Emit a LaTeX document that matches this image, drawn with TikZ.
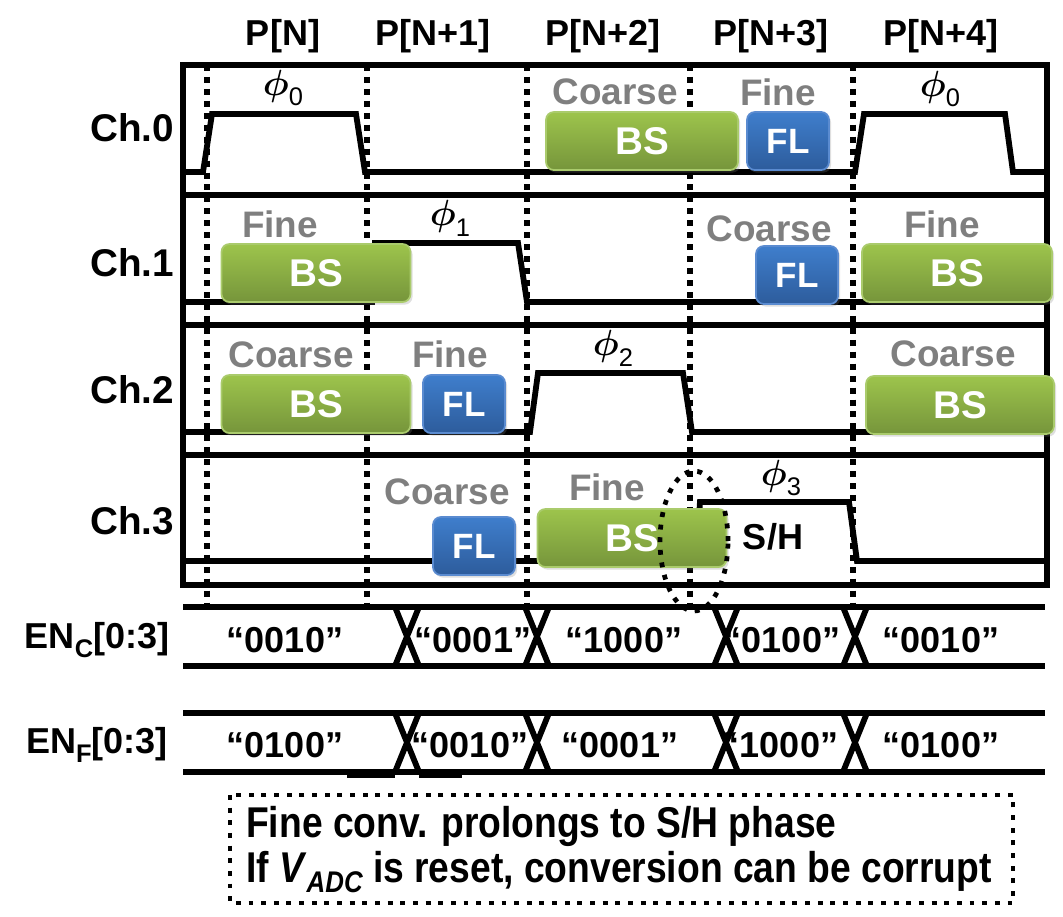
\documentclass[tikz,border=0pt]{standalone}
\usepackage{fontspec}
\setmainfont{Liberation Sans}
\newfontfamily\narrowfont[FakeStretch=0.865]{Liberation Sans}
\usetikzlibrary{shadows}

\definecolor{bsTop}{HTML}{9DC44C}
\definecolor{bsBot}{HTML}{76953B}
\definecolor{bsLine}{HTML}{AACB6C}
\definecolor{flTop}{HTML}{3F7ECC}
\definecolor{flBot}{HTML}{2D5C9C}
\definecolor{flLine}{HTML}{5A8BD0}
\definecolor{convGray}{HTML}{7F7F7F}

\tikzset{
  wire/.style={line width=3.3pt},
  tick/.style={line width=3.2pt, dash pattern=on 3.4pt off 3.4pt},
  bsbox/.style={rounded corners=4.5pt, top color=bsTop, bottom color=bsBot, draw=bsLine,
    line width=1pt, minimum height=1.16cm, text=white, font=\fontsize{22}{26}\selectfont\bfseries,
    drop shadow={shadow xshift=1.2pt, shadow yshift=-1.5pt, opacity=0.25}},
  flbox/.style={rounded corners=4.5pt, top color=flTop, bottom color=flBot, draw=flLine,
    line width=1pt, minimum height=1.16cm, minimum width=1.64cm, text=white,
    font=\fontsize{20}{24}\selectfont\bfseries,
    drop shadow={shadow xshift=1.2pt, shadow yshift=-1.5pt, opacity=0.25}},
  convlbl/.style={text=convGray, font=\fontsize{21}{25}\selectfont\bfseries},
  lbl/.style={font=\fontsize{20.5}{24}\selectfont\bfseries},
  chlbl/.style={font=\fontsize{22}{26}\selectfont\bfseries},
  phlbl/.style={font=\fontsize{21}{24}\selectfont\boldmath},
}
\newcommand{\phsub}[1]{$\phi$\raisebox{-0.55ex}{\fontsize{14.5}{14}\selectfont #1}}

\begin{document}
\begin{tikzpicture}[x=0.02cm, y=-0.02cm]
\useasboundingbox (0,0) rectangle (1063,917);

% channel frames
\draw[wire] (183,65) rectangle (1047,195);
\draw[wire] (183,195) rectangle (1047,325);
\draw[wire] (183,325) rectangle (1047,455);
\draw[wire] (183,455) rectangle (1047,585);

% sampling phases
\draw[wire] (183,172) -- (203,172) -- (212,114) -- (356,114) -- (365,172) -- (855,172)
  -- (864,114) -- (1005,114) -- (1013,172) -- (1047,172);
\draw[wire] (183,302) -- (372,302) -- (375,243) -- (518,243) -- (527,302) -- (1047,302);
\draw[wire] (183,432) -- (530,432) -- (538,373) -- (683,373) -- (692,432) -- (1047,432);
\draw[wire] (183,561) -- (696,561) -- (700,502) -- (849,502) -- (857,561) -- (1047,561);

% enable buses
\draw[wire] (183,607) -- (1045,607) (183,666) -- (1045,666);
\draw[wire] (183,713) -- (1045,713) (183,772) -- (1045,772);
\draw[wire] (347,775) -- (395,775) (419,775) -- (462,775);
\foreach \x in {407,537,726,855} {
  \draw[wire] (\x-12,607) -- (\x+12,666) (\x+12,607) -- (\x-12,666);
  \draw[wire] (\x-12,713) -- (\x+12,772) (\x+12,713) -- (\x-12,772);
}

% period boundaries
\foreach \x in {207,367,527,690,853}
  \draw[tick] (\x,65) -- (\x,610);

% period headers
\path
(283,36) node[lbl] (pn0) {P[N]}
(433,36) node[lbl] (pn1) {P[N+1]}
(603,36) node[lbl] (pn2) {P[N+2]}
(771,36) node[lbl] (pn3) {P[N+3]}
(941,36) node[lbl] (pn4) {P[N+4]};

% channel names
\path
(132,128) node[chlbl] (ch0) {Ch.0}
(132,263) node[chlbl] (ch1) {Ch.1}
(132,390) node[chlbl] (ch2) {Ch.2}
(132,521) node[chlbl] (ch3) {Ch.3};

% Ch.0
\node[phlbl] (phi0a) at (283,88) {\phsub{0}};
\node[phlbl] (phi0b) at (940,89) {\phsub{0}};
\node[convlbl] (c0coarse) at (615,92) {Coarse};
\node[convlbl] (c0fine) at (778,92) {Fine};
\node[bsbox, minimum width=3.84cm] (c0bs) at (642,141) {BS};
\node[flbox] (c0fl) at (788,141) {FL};

% Ch.1
\node[phlbl] (phi1) at (450,218) {\phsub{1}};
\node[convlbl] (c1fine) at (280,224) {Fine};
\node[convlbl] (c1coarse) at (769,229) {Coarse};
\node[convlbl] (c1fineb) at (942,224) {Fine};
\node[bsbox, minimum width=3.78cm] (c1bs) at (316,273) {BS};
\node[flbox] (c1fl) at (797,275) {FL};
\node[bsbox, minimum width=3.8cm] (c1bsb) at (957,273) {BS};

% Ch.2
\node[phlbl] (phi2) at (613,348) {\phsub{2}};
\node[convlbl] (c2coarse) at (291,355) {Coarse};
\node[convlbl] (c2fine) at (450,354) {Fine};
\node[convlbl] (c2coarseb) at (953,354) {Coarse};
\node[bsbox, minimum width=3.78cm] (c2bs) at (316,404) {BS};
\node[flbox] (c2fl) at (464,404) {FL};
\node[bsbox, minimum width=3.76cm] (c2bsb) at (960,405) {BS};

% Ch.3
\node[phlbl] (phi3) at (781,478) {\phsub{3}};
\node[lbl] (sh) at (773,537) {S/H};
\node[convlbl] (c3coarse) at (447,492) {Coarse};
\node[convlbl] (c3fine) at (607,487) {Fine};
\node[flbox] (c3fl) at (474,546) {FL};
\node[bsbox, minimum width=3.78cm] (c3bs) at (632,538) {BS};

% overlap mark
\draw[line width=2.7pt, dash pattern=on 2.8pt off 4.4pt] (694,541) ellipse [x radius=0.68cm, y radius=1.4cm];

% bus values
\path
(97,640) node[lbl] (enc) {EN\raisebox{-0.45ex}{\fontsize{14.5}{14}\selectfont C}[0:3]}
(285,640) node[lbl] (enc0) {“0010”}
(473,640) node[lbl] (enc1) {“0001”}
(624,640) node[lbl] (enc2) {“1000”}
(782,640) node[lbl] (enc3) {“0100”}
(941,640) node[lbl] (enc4) {“0010”};
\path
(97,745) node[lbl] (enf) {EN\raisebox{-0.45ex}{\fontsize{14.5}{14}\selectfont F}[0:3]}
(285,745) node[lbl] (enf0) {“0100”}
(470,745) node[lbl] (enf1) {“0010”}
(620,745) node[lbl] (enf2) {“0001”}
(780,745) node[lbl] (enf3) {“1000”}
(941,745) node[lbl] (enf4) {“0100”};

% note
\draw[line width=2.5pt, dash pattern=on 2.8pt off 4.4pt] (230,795) rectangle (1013,903);
\node[anchor=west, font=\narrowfont\fontsize{24.5}{28}\selectfont\bfseries] (note1) at (240,826)
  {Fine conv. prolongs to S/H phase};
\node[anchor=west, font=\narrowfont\fontsize{24.5}{28}\selectfont\bfseries] (note2) at (240,872)
  {If \textit{V}\raisebox{-0.45ex}{\fontsize{17}{17}\selectfont\itshape ADC} is reset, conversion can be corrupt};
\end{tikzpicture}
\end{document}
